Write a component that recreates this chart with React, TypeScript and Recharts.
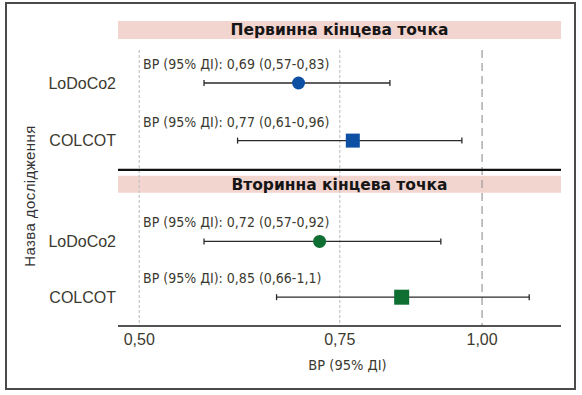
import { ScatterChart, Scatter, XAxis, YAxis, ErrorBar, ReferenceLine, ReferenceArea } from "recharts";

// data
const studies = ["LoDoCo2", "COLCOT", "LoDoCo2", "COLCOT"];
const hr = [0.69, 0.77, 0.72, 0.85];
const ciLow = [0.57, 0.61, 0.57, 0.66];
const ciHigh = [0.83, 0.96, 0.92, 1.1];
const ciLabels = ["0,69 (0,57-0,83)", "0,77 (0,61-0,96)", "0,72 (0,57-0,92)", "0,85 (0,66-1,1)"];
const endpointOf = [0, 0, 1, 1];
const headers = ["Первинна кінцева точка", "Вторинна кінцева точка"];
const xTicks = [0.5, 0.75, 1];

// layout (row units, 0 = top of plot)
const ROW_Y = [3.5, 6.7, 12.3, 15.4];
const BANDS = [[0.05, 1.05], [8.65, 9.6]];
const DIVIDER_Y = 8.33;
const VLINE_TOP = 1.67;
const Y_MAX = 17;
const PLOT_LEFT = 118;

const COLORS = ["#0d4fa3", "#0f6e31"];
const TXT = "#3b3a2f";
const NARROW = "'Liberation Sans Narrow', 'DejaVu Sans Condensed', 'Liberation Sans', sans-serif";

const rows = studies.map((s, i) => ({
  study: s,
  x: hr[i],
  y: ROW_Y[i],
  err: [hr[i] - ciLow[i], ciHigh[i] - hr[i]],
  label: ciLabels[i],
  ep: endpointOf[i],
}));

const Marker = (p: any) => {
  const { cx, cy, payload } = p;
  const c = COLORS[payload.ep];
  const sq = payload.ep === 1 ? 15 : 14;
  return (
    <g>
      <text x={PLOT_LEFT + 25} y={cy - 14} fill={TXT} fontSize={14} fontFamily={NARROW}>
        {"ВР (95% ДІ): " + payload.label}
      </text>
      {payload.study === "COLCOT"
        ? <rect x={cx - sq / 2} y={cy - sq / 2} width={sq} height={sq} fill={c} />
        : <circle cx={cx} cy={cy} r={6.5} fill={c} />}
    </g>
  );
};

export default function App() {
  return (
    <div style={{ position: "absolute", left: 0, top: 0, width: 582, height: 395, background: "#fff", fontFamily: "'Liberation Sans', Arial, sans-serif" }}>
      <div style={{ position: "absolute", left: 5, top: 2, width: 567, height: 384, border: "2px solid #4a4a4a" }} />
      <ScatterChart width={582} height={395} margin={{ top: 20, right: 21, bottom: 19, left: 0 }}>
        <XAxis
          type="number" dataKey="x" scale="log" domain={[0.479, 1.173]} allowDataOverflow
          ticks={xTicks} tickFormatter={(v: number) => v.toFixed(2).replace(".", ",")}
          tickLine={false} axisLine={{ stroke: "#1a1a1a", strokeWidth: 1.5 }}
          tick={{ fill: TXT, fontSize: 16 }} height={50}
          label={{
            content: ({ viewBox }: any) => (
              <text x={viewBox.x + viewBox.width / 2 + 8} y={viewBox.y + 44} textAnchor="middle" fill={TXT} fontSize={14.5} fontFamily={NARROW}>ВР (95% ДІ)</text>
            ),
          }}
        />
        <YAxis
          type="number" dataKey="y" domain={[0, Y_MAX]} reversed width={PLOT_LEFT}
          ticks={ROW_Y} interval={0} tickFormatter={(v: number) => studies[ROW_Y.indexOf(v)]}
          axisLine={false} tickLine={false} tickSize={0} tickMargin={2}
          tick={{ fill: TXT, fontSize: 16 }}
          label={{
            content: () => (
              <text x={29} y={196} transform="rotate(-90 29 196)" textAnchor="middle" dominantBaseline="central" fill="#333" fontSize={15} letterSpacing={0.4}>Назва дослідження</text>
            ),
          }}
        />
        {xTicks.map((v) => (
          <ReferenceLine key={v} segment={[{ x: v, y: VLINE_TOP }, { x: v, y: Y_MAX }]}
            stroke={v === 1 ? "#9a9a9a" : "#c4c4c4"} strokeWidth={1.2} strokeDasharray={v === 1 ? "8 5" : "3 2"} />
        ))}
        {headers.map((h, i) => (
          <ReferenceArea key={h} y1={BANDS[i][0]} y2={BANDS[i][1]} fill="#f3d5cf" fillOpacity={1} stroke="none"
            label={{ value: h, position: "center", fill: "#161616", fontSize: 15.5, fontWeight: 700, fontFamily: "'DejaVu Sans', sans-serif" }} />
        ))}
        <ReferenceLine y={DIVIDER_Y} stroke="#111" strokeWidth={2.2} />
        <Scatter data={rows} shape={Marker} isAnimationActive={false}>
          <ErrorBar dataKey="err" direction="x" width={3} stroke="#2a2a2a" strokeWidth={1.3} />
        </Scatter>
      </ScatterChart>
    </div>
  );
}
